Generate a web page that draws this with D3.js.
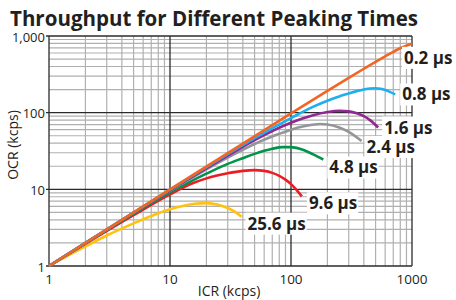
<!DOCTYPE html>
<html><head><meta charset="utf-8">
<script src="https://cdn.jsdelivr.net/npm/d3@7"></script>
<style>body{margin:0;background:#fff}svg{display:block}</style>
</head><body>
<svg id="c" width="456" height="300"></svg>
<script>
// ---- data ----
const seriesNames = ["25.6 µs","9.6 µs","4.8 µs","2.4 µs","1.6 µs","0.8 µs","0.2 µs"];
const icr_25_6 = [1, 2, 3, 5, 7, 10, 13, 16, 20, 25, 30, 35, 39];
const ocr_25_6 = [1, 1.8, 2.5, 3.6, 4.5, 5.5, 6.1, 6.5, 6.6, 6.3, 5.7, 5.0, 4.4];
const icr_9_6 = [1, 5, 10, 15, 20, 30, 40, 50, 60, 70, 80, 90, 100, 110, 123];
const ocr_9_6 = [1, 4.6, 8.6, 11.8, 13.9, 16.2, 17.4, 17.8, 17.4, 16.4, 15.0, 13.4, 11.7, 10.0, 8.1];
const icr_4_8 = [1, 5, 10, 15, 20, 30, 40, 50, 60, 70, 85, 100, 120, 140, 160, 185];
const ocr_4_8 = [1, 4.8, 9.1, 12.8, 16, 21.5, 25.5, 29, 31.8, 33.8, 35.5, 35.5, 33.5, 30.5, 27.5, 24.5];
const icr_2_4 = [1, 10, 30, 50, 75, 100, 125, 150, 175, 200, 250, 300, 383];
const ocr_2_4 = [1, 9.6, 26, 39, 51, 60, 66, 69.5, 71, 70, 64, 56, 42.6];
const icr_1_6 = [1, 10, 30, 50, 100, 150, 200, 250, 300, 350, 400, 450, 525];
const ocr_1_6 = [1, 9.7, 27.5, 44, 74, 92, 102, 106, 104, 98, 90, 80, 64];
const icr_0_8 = [1, 10, 30, 50, 100, 150, 200, 250, 300, 350, 400, 450, 500, 550, 600, 650, 726];
const ocr_0_8 = [1, 9.9, 28.8, 46.5, 85, 118, 143, 163, 178, 191, 201, 207, 208, 205, 198, 188, 173];
const icr_0_2 = [1, 10, 100, 200, 300, 400, 500, 600, 700, 800, 900, 1000];
const ocr_0_2 = [1, 10, 98, 193, 285, 374, 460, 542, 620, 692, 745, 790];
const xTicks = [1, 10, 100, 1000];
const xTickLabels = ["1", "10", "100", "1000"];
const yTicks = [1, 10, 100, 1000];
const yTickLabels = ["1", "10", "100", "1,000"];
const title = "Throughput for Different Peaking Times";
const xTitle = "ICR (kcps)";
const yTitle = "OCR (kcps)";

// ---- styling / layout ----
const colors = ["#FFC20E", "#ED1C24", "#00934A", "#939598", "#92278F", "#1CB0EE", "#F26522"];
const labelOffsets = [[6,13],[7,13],[6,14],[5,12],[6,6],[7,6],[-8,20]];
const seriesX = [icr_25_6, icr_9_6, icr_4_8, icr_2_4, icr_1_6, icr_0_8, icr_0_2];
const seriesY = [ocr_25_6, ocr_9_6, ocr_4_8, ocr_2_4, ocr_1_6, ocr_0_8, ocr_0_2];

const L = 49, R = 412, T = 36, B = 266;
const svg = d3.select("#c");
const x = d3.scaleLog().domain([1, 1000]).range([L, R]);
const y = d3.scaleLog().domain([1, 1000]).range([B, T]);
const font = "'Open Sans', 'Noto Sans', sans-serif";

// grid
const minor = [];
[1, 10, 100].forEach(d => { for (let k = 2; k <= 9; k++) minor.push(d * k); });
const g = svg.append("g");
g.selectAll(".vx").data(minor).join("line")
  .attr("x1", d => x(d)).attr("x2", d => x(d)).attr("y1", T).attr("y2", B)
  .attr("stroke", "#b0b0b0").attr("stroke-width", 1.2);
g.selectAll(".hy").data(minor).join("line")
  .attr("y1", d => y(d)).attr("y2", d => y(d)).attr("x1", L).attr("x2", R)
  .attr("stroke", "#b0b0b0").attr("stroke-width", 1.2);
g.selectAll(".mx").data(xTicks).join("line")
  .attr("x1", d => x(d)).attr("x2", d => x(d)).attr("y1", T).attr("y2", B)
  .attr("stroke", "#2b2b2b").attr("stroke-width", 1.3);
g.selectAll(".my").data(yTicks).join("line")
  .attr("y1", d => y(d)).attr("y2", d => y(d)).attr("x1", L - 3).attr("x2", R)
  .attr("stroke", "#2b2b2b").attr("stroke-width", 1.3);

// lines
const line = d3.line().x(d => x(d[0])).y(d => y(d[1])).curve(d3.curveMonotoneX);
seriesX.forEach((xs, i) => {
  const pts = xs.map((v, j) => [v, seriesY[i][j]]);
  svg.append("path").datum(pts).attr("d", line)
    .attr("fill", "none").attr("stroke", colors[i]).attr("stroke-width", 2.6)
    .attr("stroke-linejoin", "round").attr("stroke-linecap", "butt");
});

// series labels with white boxes
seriesX.forEach((xs, i) => {
  const n = xs.length - 1;
  const px = x(xs[n]) + labelOffsets[i][0];
  const py = y(seriesY[i][n]) + labelOffsets[i][1];
  const grp = svg.append("g");
  const t = grp.append("text").attr("x", px).attr("y", py)
    .attr("font-family", font).attr("font-weight", "bold").attr("font-size", 17)
    .attr("fill", "#231f20").text(seriesNames[i]);
  const bb = t.node().getBBox();
  grp.insert("rect", "text").attr("x", bb.x - 2).attr("y", bb.y + 1)
    .attr("width", bb.width + 3).attr("height", bb.height - 1).attr("fill", "#fff");
});

// tick labels
svg.selectAll(".xl").data(xTicks).join("text")
  .attr("x", d => x(d)).attr("y", 284).attr("text-anchor", "middle")
  .attr("font-family", font).attr("font-size", 13.5).attr("fill", "#231f20")
  .text((d, i) => xTickLabels[i]);
svg.selectAll(".yl").data(yTicks).join("text")
  .attr("x", L - 4).attr("y", d => y(d) + 5.5).attr("text-anchor", "end")
  .attr("font-family", font).attr("font-size", 13).attr("fill", "#231f20")
  .text((d, i) => yTickLabels[i]);

// axis titles
svg.append("text").attr("x", 229).attr("y", 296).attr("text-anchor", "middle")
  .attr("font-family", font).attr("font-size", 14).attr("fill", "#231f20").text(xTitle);
svg.append("text").attr("transform", "translate(18,145) rotate(-90)").attr("text-anchor", "middle")
  .attr("font-family", font).attr("font-size", 14).attr("fill", "#231f20").text(yTitle);

// title
svg.append("text").attr("x", 10).attr("y", 26)
  .attr("font-family", font).attr("font-weight", "bold").attr("font-size", 21)
  .attr("fill", "#231f20").attr("textLength", 408).attr("lengthAdjust", "spacingAndGlyphs")
  .text(title);
</script>
</body></html>
